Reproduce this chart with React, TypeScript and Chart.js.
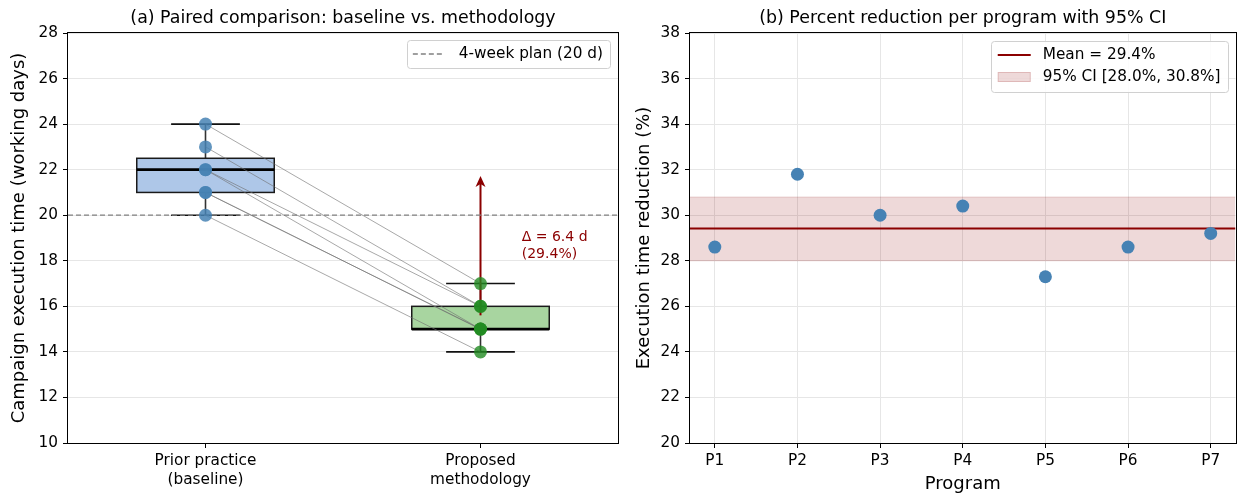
import React, { useEffect, useRef } from "react";
import { Chart, registerables } from "chart.js";

Chart.register(...registerables);

const FONT_FAMILY = "'DejaVu Sans', 'Liberation Sans', sans-serif";

// ---------------- data ----------------
const groupLabels: string[][] = [["Prior practice", "(baseline)"], ["Proposed", "methodology"]];
const programs: string[] = ["P1", "P2", "P3", "P4", "P5", "P6", "P7"];
const baselineDays: number[] = [21, 22, 20, 23, 22, 21, 24];
const proposedDays: number[] = [15, 15, 14, 16, 16, 15, 17];
const planDays = 20;
const planLabel = "4-week plan (20 d)";
const reductionPct: number[] = [28.6, 31.8, 30.0, 30.4, 27.3, 28.6, 29.2];
const ciLowPct = 28.0;
const ciHighPct = 30.8;
const leftYRange: number[] = [10, 28];
const rightYRange: number[] = [20, 38];
const leftXRange: number[] = [-0.5, 1.5];
const rightXRange: number[] = [-0.3, 6.3];
const yTickStep = 2;
const leftTitle = "(a) Paired comparison: baseline vs. methodology";
const rightTitle = "(b) Percent reduction per program with 95% CI";
const leftYLabel = "Campaign execution time (working days)";
const rightYLabel = "Execution time reduction (%)";
const rightXLabel = "Program";

// ---------------- styles ----------------
const TICK_FONT = { family: FONT_FAMILY, size: 15.3 };
const AXIS_FONT = { family: FONT_FAMILY, size: 18 };
const TITLE_SIZE = 17.4;
const LEGEND_SIZE = 15.3;
const ANNOT_SIZE = 14;
const DARKRED = "#8b0000";
const STEEL = "rgb(70,130,180)";
const GRID = "#e6e6e6";
const BOX_WIDTH = 0.5;
const CAP_WIDTH = 0.25;
const boxFills = ["#aec7e8", "#a8d5a0"];

const mean = (a: number[]) => a.reduce((s, v) => s + v, 0) / a.length;

function quantile(sorted: number[], q: number) {
  const pos = (sorted.length - 1) * q;
  const lo = Math.floor(pos);
  const hi = Math.ceil(pos);
  return sorted[lo] + (sorted[hi] - sorted[lo]) * (pos - lo);
}

function boxStats(arr: number[]) {
  const s = [...arr].sort((a, b) => a - b);
  const q1 = quantile(s, 0.25);
  const med = quantile(s, 0.5);
  const q3 = quantile(s, 0.75);
  const iqr = q3 - q1;
  const lowW = Math.min(...s.filter((v) => v >= q1 - 1.5 * iqr));
  const hiW = Math.max(...s.filter((v) => v <= q3 + 1.5 * iqr));
  return { q1, med, q3, lowW, hiW };
}

function roundRect(ctx: CanvasRenderingContext2D, x: number, y: number, w: number, h: number, r: number) {
  ctx.beginPath();
  ctx.moveTo(x + r, y);
  ctx.lineTo(x + w - r, y);
  ctx.arcTo(x + w, y, x + w, y + r, r);
  ctx.lineTo(x + w, y + h - r);
  ctx.arcTo(x + w, y + h, x + w - r, y + h, r);
  ctx.lineTo(x + r, y + h);
  ctx.arcTo(x, y + h, x, y + h - r, r);
  ctx.lineTo(x, y + r);
  ctx.arcTo(x, y, x + r, y, r);
  ctx.closePath();
}

function legendFrame(ctx: CanvasRenderingContext2D, x: number, y: number, w: number, h: number) {
  roundRect(ctx, Math.round(x) + 0.5, Math.round(y) + 0.5, Math.round(w), Math.round(h), 3);
  ctx.fillStyle = "rgba(255,255,255,0.85)";
  ctx.fill();
  ctx.strokeStyle = "#d0d0d0";
  ctx.lineWidth = 1;
  ctx.stroke();
}

const framePlugin = (title: string) => ({
  id: "frameTitle",
  afterDraw(chart: any) {
    const { ctx, chartArea: a } = chart;
    ctx.save();
    ctx.strokeStyle = "#000";
    ctx.lineWidth = 1;
    ctx.strokeRect(Math.round(a.left) - 0.5, Math.round(a.top) - 0.5, Math.round(a.right - a.left) + 1, Math.round(a.bottom - a.top) + 1);
    ctx.fillStyle = "#000";
    ctx.font = `${TITLE_SIZE}px ${FONT_FAMILY}`;
    ctx.textAlign = "center";
    ctx.textBaseline = "middle";
    ctx.fillText(title, (a.left + a.right) / 2, 18);
    ctx.restore();
  },
});

const leftPlugin = {
  id: "leftExtras",
  beforeDatasetsDraw(chart: any) {
    const { ctx } = chart;
    const xs = chart.scales.x;
    const ys = chart.scales.y;
    const groups = [baselineDays, proposedDays];
    ctx.save();
    groups.forEach((vals, i) => {
      const st = boxStats(vals);
      const cx = xs.getPixelForValue(i);
      const bl = xs.getPixelForValue(i - BOX_WIDTH / 2);
      const br = xs.getPixelForValue(i + BOX_WIDTH / 2);
      const cl = xs.getPixelForValue(i - CAP_WIDTH / 2);
      const cr = xs.getPixelForValue(i + CAP_WIDTH / 2);
      const yq1 = ys.getPixelForValue(st.q1);
      const yq3 = ys.getPixelForValue(st.q3);
      const ymed = ys.getPixelForValue(st.med);
      const ylo = ys.getPixelForValue(st.lowW);
      const yhi = ys.getPixelForValue(st.hiW);
      ctx.strokeStyle = "#333";
      ctx.lineWidth = 1.6;
      ctx.beginPath();
      ctx.moveTo(cx, yq3);
      ctx.lineTo(cx, yhi);
      ctx.moveTo(cx, yq1);
      ctx.lineTo(cx, ylo);
      ctx.stroke();
      ctx.strokeStyle = "#111";
      ctx.beginPath();
      ctx.moveTo(cl, yhi);
      ctx.lineTo(cr, yhi);
      ctx.moveTo(cl, ylo);
      ctx.lineTo(cr, ylo);
      ctx.stroke();
      ctx.fillStyle = boxFills[i];
      ctx.fillRect(bl, yq3, br - bl, yq1 - yq3);
      ctx.strokeStyle = "#1a1a1a";
      ctx.lineWidth = 1.5;
      ctx.strokeRect(bl, yq3, br - bl, yq1 - yq3);
      ctx.strokeStyle = "#000";
      ctx.lineWidth = 2.6;
      ctx.beginPath();
      ctx.moveTo(bl, ymed);
      ctx.lineTo(br, ymed);
      ctx.stroke();
    });
    // arrow from proposed mean to baseline mean
    const ax = xs.getPixelForValue(1);
    const yFrom = ys.getPixelForValue(mean(proposedDays)) - 4;
    const yTo = ys.getPixelForValue(mean(baselineDays)) + 3;
    ctx.strokeStyle = DARKRED;
    ctx.fillStyle = DARKRED;
    ctx.lineWidth = 2;
    ctx.beginPath();
    ctx.moveTo(ax, yFrom);
    ctx.lineTo(ax, yTo + 6);
    ctx.stroke();
    ctx.beginPath();
    ctx.moveTo(ax, yTo);
    ctx.lineTo(ax - 5, yTo + 11);
    ctx.lineTo(ax, yTo + 8);
    ctx.lineTo(ax + 5, yTo + 11);
    ctx.closePath();
    ctx.fill();
    ctx.restore();
  },
  afterDraw(chart: any) {
    const { ctx, chartArea: a } = chart;
    const xs = chart.scales.x;
    const ys = chart.scales.y;
    const delta = mean(baselineDays) - mean(proposedDays);
    const pct = (delta / mean(baselineDays)) * 100;
    ctx.save();
    ctx.fillStyle = DARKRED;
    ctx.font = `${ANNOT_SIZE}px ${FONT_FAMILY}`;
    ctx.textAlign = "left";
    ctx.textBaseline = "middle";
    const tx = xs.getPixelForValue(1.15);
    const ty = ys.getPixelForValue((mean(baselineDays) + mean(proposedDays)) / 2);
    ctx.fillText(`Δ = ${delta.toFixed(1)} d`, tx, ty - 8.5);
    ctx.fillText(`(${pct.toFixed(1)}%)`, tx, ty + 8.5);
    // legend
    ctx.font = `${LEGEND_SIZE}px ${FONT_FAMILY}`;
    const tw = ctx.measureText(planLabel).width;
    const w = 6 + 32 + 14 + tw + 7;
    const h = 28;
    const lx = a.right - 8 - w;
    const ly = a.top + 7;
    legendFrame(ctx, lx, ly, w, h);
    ctx.strokeStyle = "#808080";
    ctx.lineWidth = 1.3;
    ctx.setLineDash([5, 3]);
    ctx.beginPath();
    ctx.moveTo(lx + 6, ly + 14);
    ctx.lineTo(lx + 38, ly + 14);
    ctx.stroke();
    ctx.setLineDash([]);
    ctx.fillStyle = "#000";
    ctx.fillText(planLabel, lx + 52, ly + 14);
    ctx.restore();
  },
};

const rightLegendPlugin = {
  id: "rightLegend",
  afterDraw(chart: any) {
    const { ctx, chartArea: a } = chart;
    const l1 = `Mean = ${mean(reductionPct).toFixed(1)}%`;
    const l2 = `95% CI [${ciLowPct.toFixed(1)}%, ${ciHighPct.toFixed(1)}%]`;
    ctx.save();
    ctx.font = `${LEGEND_SIZE}px ${FONT_FAMILY}`;
    const tw = Math.max(ctx.measureText(l1).width, ctx.measureText(l2).width);
    const w = 7 + 33 + 12 + tw + 7;
    const h = 51;
    const lx = a.right - 8 - w;
    const ly = a.top + 8;
    legendFrame(ctx, lx, ly, w, h);
    ctx.strokeStyle = DARKRED;
    ctx.lineWidth = 2;
    ctx.beginPath();
    ctx.moveTo(lx + 7, ly + 14);
    ctx.lineTo(lx + 40, ly + 14);
    ctx.stroke();
    ctx.fillStyle = "rgba(139,0,0,0.15)";
    ctx.fillRect(lx + 7, ly + 31, 33, 10);
    ctx.strokeStyle = "rgba(139,0,0,0.15)";
    ctx.lineWidth = 1;
    ctx.strokeRect(lx + 7.5, ly + 31.5, 32, 9);
    ctx.fillStyle = "#000";
    ctx.textAlign = "left";
    ctx.textBaseline = "middle";
    ctx.fillText(l1, lx + 52, ly + 14);
    ctx.fillText(l2, lx + 52, ly + 36);
    ctx.restore();
  },
};

export default function App() {
  const leftRef = useRef<HTMLCanvasElement | null>(null);
  const rightRef = useRef<HTMLCanvasElement | null>(null);

  useEffect(() => {
    if (!leftRef.current || !rightRef.current) return;

    const pairDatasets = baselineDays.map((b, i) => ({
      type: "scatter" as const,
      data: [
        { x: 0, y: b },
        { x: 1, y: proposedDays[i] },
      ],
      showLine: true,
      borderColor: "rgba(110,110,110,0.6)",
      borderWidth: 1,
      pointRadius: 0,
      order: 2,
    }));

    const left = new Chart(leftRef.current, {
      type: "scatter",
      data: {
        datasets: [
          {
            label: "Prior practice",
            data: baselineDays.map((v) => ({ x: 0, y: v })),
            backgroundColor: "rgba(70,130,180,0.85)",
            borderColor: "rgba(70,130,180,0)",
            pointRadius: 6.5,
            borderWidth: 0,
            order: 0,
          },
          {
            label: "Proposed",
            data: proposedDays.map((v) => ({ x: 1, y: v })),
            backgroundColor: "rgba(34,139,34,0.8)",
            borderColor: "rgba(34,139,34,0)",
            pointRadius: 6.5,
            borderWidth: 0,
            order: 0,
          },
          ...pairDatasets,
          {
            label: planLabel,
            data: [
              { x: leftXRange[0], y: planDays },
              { x: leftXRange[1], y: planDays },
            ],
            showLine: true,
            borderColor: "#808080",
            borderWidth: 1.3,
            borderDash: [5, 3],
            pointRadius: 0,
            order: 3,
          },
        ] as any,
      },
      options: {
        responsive: false,
        animation: false,
        events: [],
        layout: { padding: { left: 0, right: 12, top: 33, bottom: 0 } },
        plugins: { legend: { display: false }, title: { display: false }, tooltip: { enabled: false } },
        scales: {
          x: {
            type: "linear",
            min: leftXRange[0],
            max: leftXRange[1],
            afterBuildTicks: (s: any) => {
              s.ticks = groupLabels.map((_, i) => ({ value: i }));
            },
            afterFit: (s: any) => {
              s.height = 52;
            },
            ticks: {
              callback: (v: any) => groupLabels[v as number],
              font: TICK_FONT,
              color: "#000",
              padding: 4,
              maxRotation: 0,
              autoSkip: false,
            },
            grid: { drawOnChartArea: false, tickColor: "#000", tickLength: 5 },
            border: { display: false },
          },
          y: {
            min: leftYRange[0],
            max: leftYRange[1],
            afterFit: (s: any) => {
              s.width = 68;
            },
            ticks: { stepSize: yTickStep, font: TICK_FONT, color: "#000", padding: 5 },
            grid: { color: GRID, tickColor: "#000", tickLength: 5 },
            border: { display: false },
            title: { display: true, text: leftYLabel, font: AXIS_FONT, color: "#000", padding: { top: 9, bottom: 0 } },
          },
        },
      } as any,
      plugins: [leftPlugin, framePlugin(leftTitle)],
    });

    const right = new Chart(rightRef.current, {
      type: "scatter",
      data: {
        datasets: [
          {
            label: "Reduction",
            data: reductionPct.map((v, i) => ({ x: i, y: v })),
            backgroundColor: STEEL,
            borderColor: STEEL,
            pointRadius: 6.5,
            borderWidth: 0,
            order: 0,
          },
          {
            label: "Mean",
            data: [
              { x: rightXRange[0], y: mean(reductionPct) },
              { x: rightXRange[1], y: mean(reductionPct) },
            ],
            showLine: true,
            borderColor: DARKRED,
            borderWidth: 2,
            pointRadius: 0,
            order: 1,
          },
          {
            label: "CI high",
            data: [
              { x: rightXRange[0], y: ciHighPct },
              { x: rightXRange[1], y: ciHighPct },
            ],
            showLine: true,
            borderColor: "rgba(139,0,0,0.15)",
            backgroundColor: "rgba(139,0,0,0.15)",
            borderWidth: 1,
            pointRadius: 0,
            fill: "+1",
            order: 2,
          },
          {
            label: "CI low",
            data: [
              { x: rightXRange[0], y: ciLowPct },
              { x: rightXRange[1], y: ciLowPct },
            ],
            showLine: true,
            borderColor: "rgba(139,0,0,0.15)",
            borderWidth: 1,
            pointRadius: 0,
            fill: false,
            order: 3,
          },
        ] as any,
      },
      options: {
        responsive: false,
        animation: false,
        events: [],
        layout: { padding: { left: 0, right: 2, top: 33, bottom: 0 } },
        plugins: { legend: { display: false }, title: { display: false }, tooltip: { enabled: false } },
        scales: {
          x: {
            type: "linear",
            min: rightXRange[0],
            max: rightXRange[1],
            afterBuildTicks: (s: any) => {
              s.ticks = programs.map((_, i) => ({ value: i }));
            },
            afterFit: (s: any) => {
              s.height = 52;
            },
            ticks: {
              callback: (v: any) => programs[v as number],
              font: TICK_FONT,
              color: "#000",
              padding: 4,
              maxRotation: 0,
              autoSkip: false,
            },
            grid: { color: GRID, tickColor: "#000", tickLength: 5 },
            border: { display: false },
            title: { display: true, text: rightXLabel, font: AXIS_FONT, color: "#000", padding: { top: 0, bottom: 0 } },
          },
          y: {
            min: rightYRange[0],
            max: rightYRange[1],
            afterFit: (s: any) => {
              s.width = 60;
            },
            ticks: { stepSize: yTickStep, font: TICK_FONT, color: "#000", padding: 5 },
            grid: { color: GRID, tickColor: "#000", tickLength: 5 },
            border: { display: false },
            title: { display: true, text: rightYLabel, font: AXIS_FONT, color: "#000", padding: { top: 4, bottom: 0 } },
          },
        },
      } as any,
      plugins: [rightLegendPlugin, framePlugin(rightTitle)],
    });

    return () => {
      left.destroy();
      right.destroy();
    };
  }, []);

  return (
    <div
      style={{
        position: "absolute",
        left: 0,
        top: 0,
        width: 1239,
        height: 495,
        overflow: "hidden",
        background: "#fff",
      }}
    >
      <canvas ref={leftRef} width={630} height={495} style={{ position: "absolute", left: 0, top: 0 }} />
      <canvas ref={rightRef} width={612} height={495} style={{ position: "absolute", left: 630, top: 0 }} />
    </div>
  );
}
